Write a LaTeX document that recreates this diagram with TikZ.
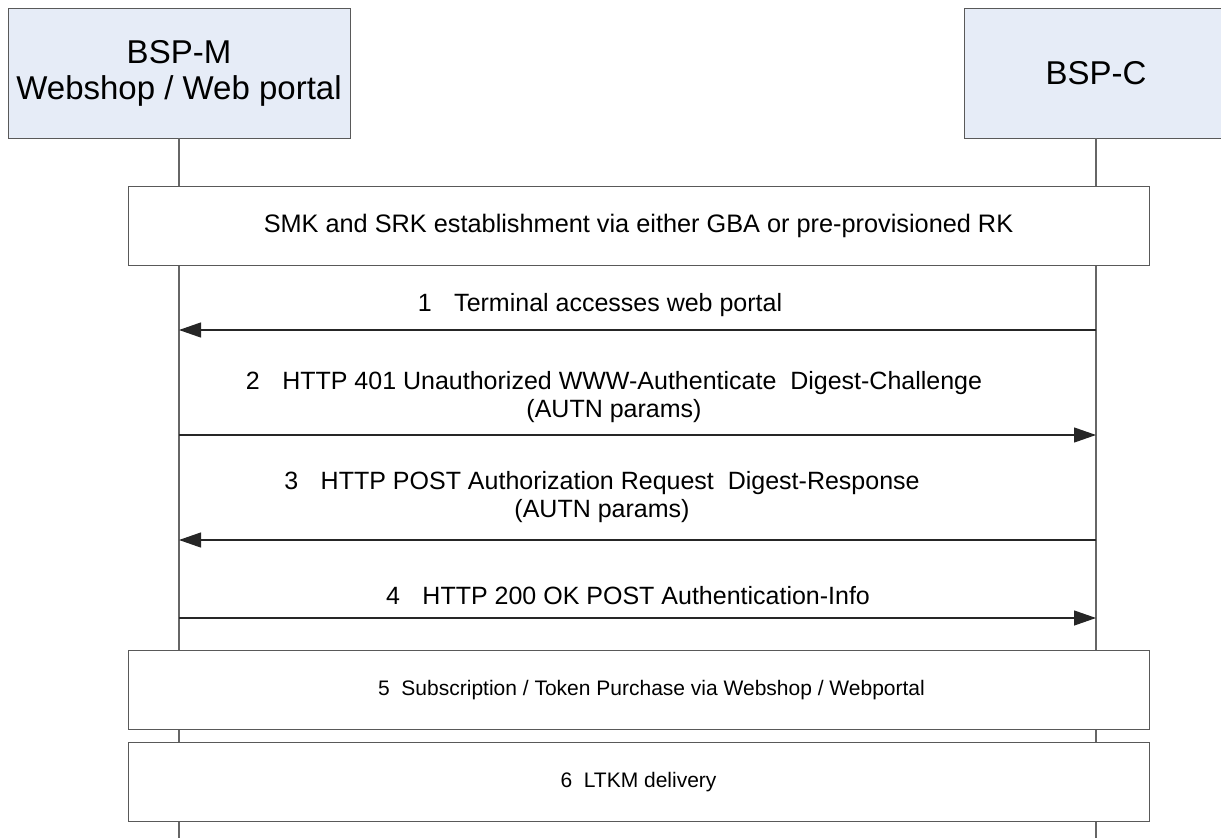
\documentclass[tikz,border=0pt]{standalone}
\usepackage{fontspec}
\setmainfont{Liberation Sans}
\usetikzlibrary{arrows.meta}
\definecolor{partyblue}{RGB}{230,236,247}

\begin{document}
\begin{tikzpicture}[x=1pt, y=-1pt,
            party/.style={draw=black!65, fill=partyblue, minimum width=342pt, minimum height=130pt,
                          inner sep=0pt, align=center, font=\fontsize{33}{36}\selectfont},
            phase/.style={draw=black!65, fill=white, minimum width=1021pt, minimum height=79pt,
                          inner sep=0pt, font=\fontsize{25.3}{28}\selectfont},
            life/.style={draw=black!60, line width=1.2pt},
            msg/.style={draw=black!85, line width=1.2pt, -{Triangle[length=22pt,width=15pt]}},
            lbl/.style={inner sep=0pt, align=center, font=\fontsize{25}{28}\selectfont}
        ]
        \useasboundingbox (0,0) rectangle (1221,838);

        % Participants
        \node[party] (bspm) at (179,73)  {BSP-M\\Webshop / Web portal};
        \node[party, minimum width=264pt] (bspc) at (1096,73) {BSP-C};

        % Lifelines
        \coordinate (bspmEnd) at (179,838);
        \coordinate (bspcEnd) at (1096,838);
        \draw[life] (bspm.south) -- (bspmEnd);
        \draw[life] (bspc.south) -- (bspcEnd);

        % Key establishment
        \node[phase] (smk) at (638.5,226) {SMK and SRK establishment via either GBA or pre-provisioned RK};

        % Messages
        \draw[msg] (bspc |- 0,330) -- (bspm |- 0,330);
        \node[lbl] (m1) at (600,305) {1\hspace{0.9em}Terminal accesses web portal};

        \draw[msg] (bspm |- 0,435) -- (bspc |- 0,435);
        \node[lbl] (m2) at (614,397) {2\hspace{0.9em}HTTP 401 Unauthorized WWW-Authenticate\ \ Digest-Challenge\\(AUTN params)};

        \draw[msg] (bspc |- 0,540) -- (bspm |- 0,540);
        \node[lbl] (m3) at (602,497) {3\hspace{0.9em}HTTP POST Authorization Request\ \ Digest-Response\\(AUTN params)};

        \draw[msg] (bspm |- 0,618) -- (bspc |- 0,618);
        \node[lbl] (m4) at (628,596) {4\hspace{0.9em}HTTP 200 OK POST Authentication-Info};

        % Purchase and delivery
        \node[phase, font=\fontsize{21}{24}\selectfont] (buy) at (638.5,690) {\hspace{26pt}5\ \ Subscription / Token Purchase via Webshop / Webportal};
        \node[phase, font=\fontsize{21}{24}\selectfont] (ltkm) at (638.5,782) {6\ \ LTKM delivery};
    \end{tikzpicture}
\end{document}
